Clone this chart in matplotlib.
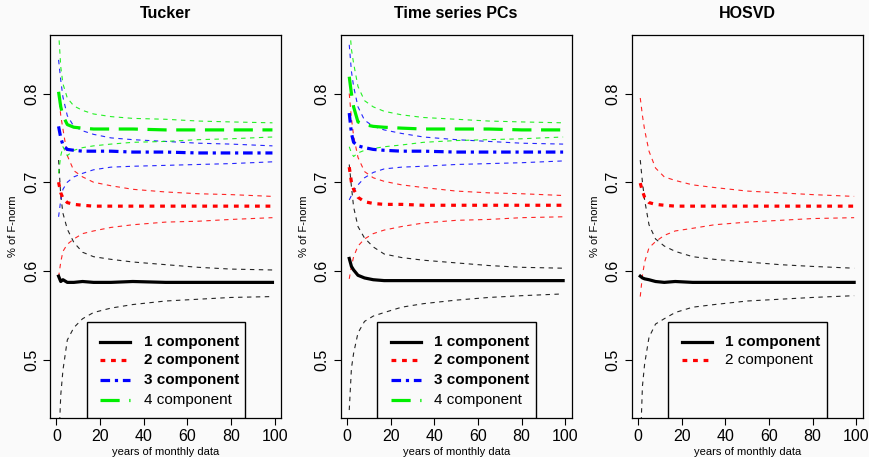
import matplotlib
matplotlib.use("Agg")
import matplotlib.pyplot as plt
from matplotlib.patches import Rectangle

plt.rcParams['font.family'] = ['Liberation Sans', 'DejaVu Sans']

# years of monthly data (x positions)
years = [1, 2, 3, 5, 8, 12, 17, 25, 35, 50, 65, 80, 99]

# ---- Tucker ----
tucker_1 = [0.594, 0.588, 0.590, 0.587, 0.587, 0.588, 0.587, 0.587, 0.588, 0.587, 0.587, 0.587, 0.587]
tucker_1_hi = [0.725, 0.685, 0.665, 0.647, 0.632, 0.621, 0.616, 0.613, 0.610, 0.607, 0.604, 0.602, 0.601]
tucker_1_lo = [0.40, 0.46, 0.488, 0.522, 0.536, 0.546, 0.553, 0.558, 0.562, 0.566, 0.568, 0.570, 0.571]
tucker_2 = [0.700, 0.688, 0.682, 0.677, 0.675, 0.674, 0.673, 0.673, 0.673, 0.673, 0.673, 0.673, 0.673]
tucker_2_hi = [0.800, 0.775, 0.760, 0.730, 0.713, 0.706, 0.700, 0.696, 0.692, 0.689, 0.687, 0.686, 0.684]
tucker_2_lo = [0.593, 0.610, 0.622, 0.630, 0.636, 0.642, 0.645, 0.649, 0.652, 0.655, 0.656, 0.658, 0.660]
tucker_3 = [0.763, 0.750, 0.742, 0.737, 0.736, 0.735, 0.735, 0.735, 0.734, 0.734, 0.733, 0.733, 0.733]
tucker_3_hi = [0.838, 0.815, 0.796, 0.775, 0.763, 0.758, 0.754, 0.750, 0.748, 0.746, 0.744, 0.743, 0.741]
tucker_3_lo = [0.661, 0.680, 0.692, 0.700, 0.706, 0.710, 0.714, 0.717, 0.718, 0.719, 0.720, 0.721, 0.723]
tucker_4 = [0.802, 0.785, 0.775, 0.765, 0.762, 0.761, 0.760, 0.760, 0.760, 0.759, 0.759, 0.759, 0.759]
tucker_4_hi = [0.870, 0.830, 0.811, 0.795, 0.786, 0.781, 0.777, 0.774, 0.772, 0.771, 0.769, 0.768, 0.767]
tucker_4_lo = [0.710, 0.730, 0.740, 0.730, 0.736, 0.739, 0.741, 0.743, 0.745, 0.746, 0.748, 0.749, 0.751]

# ---- Time series PCs ----
pcs_1 = [0.614, 0.605, 0.601, 0.595, 0.592, 0.590, 0.589, 0.589, 0.589, 0.589, 0.589, 0.589, 0.589]
pcs_1_hi = [0.720, 0.695, 0.672, 0.650, 0.637, 0.627, 0.619, 0.615, 0.612, 0.609, 0.606, 0.604, 0.603]
pcs_1_lo = [0.443, 0.490, 0.507, 0.530, 0.543, 0.549, 0.553, 0.559, 0.563, 0.567, 0.570, 0.572, 0.574]
pcs_2 = [0.717, 0.700, 0.692, 0.683, 0.678, 0.676, 0.675, 0.675, 0.674, 0.674, 0.674, 0.674, 0.674]
pcs_2_hi = [0.800, 0.772, 0.752, 0.728, 0.712, 0.705, 0.701, 0.697, 0.694, 0.690, 0.688, 0.687, 0.685]
pcs_2_lo = [0.591, 0.605, 0.616, 0.628, 0.636, 0.642, 0.646, 0.650, 0.654, 0.657, 0.658, 0.660, 0.661]
pcs_3 = [0.778, 0.755, 0.745, 0.741, 0.739, 0.737, 0.736, 0.735, 0.735, 0.734, 0.734, 0.734, 0.734]
pcs_3_hi = [0.855, 0.825, 0.808, 0.785, 0.770, 0.763, 0.759, 0.755, 0.751, 0.748, 0.746, 0.744, 0.743]
pcs_3_lo = [0.680, 0.685, 0.690, 0.697, 0.705, 0.711, 0.715, 0.717, 0.718, 0.720, 0.721, 0.722, 0.724]
pcs_4 = [0.819, 0.800, 0.785, 0.768, 0.765, 0.763, 0.762, 0.761, 0.760, 0.760, 0.760, 0.759, 0.759]
pcs_4_hi = [0.880, 0.850, 0.834, 0.808, 0.792, 0.785, 0.780, 0.776, 0.773, 0.771, 0.769, 0.768, 0.767]
pcs_4_lo = [0.740, 0.733, 0.729, 0.733, 0.736, 0.738, 0.740, 0.742, 0.745, 0.747, 0.748, 0.749, 0.751]

# ---- HOSVD ----
hosvd_1 = [0.594, 0.592, 0.591, 0.590, 0.588, 0.587, 0.588, 0.587, 0.587, 0.587, 0.587, 0.587, 0.587]
hosvd_1_hi = [0.725, 0.700, 0.680, 0.652, 0.636, 0.628, 0.622, 0.616, 0.613, 0.610, 0.607, 0.605, 0.603]
hosvd_1_lo = [0.40, 0.470, 0.495, 0.525, 0.540, 0.546, 0.553, 0.559, 0.562, 0.566, 0.568, 0.570, 0.572]
hosvd_2 = [0.699, 0.690, 0.683, 0.677, 0.675, 0.674, 0.673, 0.673, 0.673, 0.673, 0.673, 0.673, 0.673]
hosvd_2_hi = [0.795, 0.775, 0.759, 0.735, 0.716, 0.706, 0.702, 0.697, 0.694, 0.690, 0.688, 0.686, 0.684]
hosvd_2_lo = [0.571, 0.595, 0.610, 0.626, 0.633, 0.640, 0.645, 0.648, 0.652, 0.655, 0.657, 0.659, 0.660]

titles = ['Tucker', 'Time series PCs', 'HOSVD']
labels = ['1 component', '2 component', '3 component', '4 component']
colors = ['black', '#ff0000', '#0000ff', '#00ee00']
styles = ['-', (0, (1.5, 1.8)), (0, (3, 1.5, 1, 1.5)), (0, (6, 3))]

panels = [
    [(tucker_1, tucker_1_hi, tucker_1_lo), (tucker_2, tucker_2_hi, tucker_2_lo),
     (tucker_3, tucker_3_hi, tucker_3_lo), (tucker_4, tucker_4_hi, tucker_4_lo)],
    [(pcs_1, pcs_1_hi, pcs_1_lo), (pcs_2, pcs_2_hi, pcs_2_lo),
     (pcs_3, pcs_3_hi, pcs_3_lo), (pcs_4, pcs_4_hi, pcs_4_lo)],
    [(hosvd_1, hosvd_1_hi, hosvd_1_lo), (hosvd_2, hosvd_2_hi, hosvd_2_lo)],
]

bg = '#fafafa'
fig = plt.figure(figsize=(8.7, 4.57), dpi=100, facecolor=bg)
lefts = [0.0575, 0.3916, 0.7261]

for p in range(3):
    ax = fig.add_axes([lefts[p], 0.0853, 0.2655, 0.838], facecolor=bg)
    for k, (mean, hi, lo) in enumerate(panels[p]):
        ax.plot(years, hi, color=colors[k], lw=0.8, ls=(0, (4, 4)), alpha=0.85)
        ax.plot(years, lo, color=colors[k], lw=0.8, ls=(0, (4, 4)), alpha=0.85)
    for k, (mean, hi, lo) in enumerate(panels[p]):
        ax.plot(years, mean, color=colors[k], lw=2.3, ls=styles[k])

    ax.set_xlim(-2.92, 102.92)
    ax.set_ylim(0.434, 0.866)
    ax.set_xticks([0, 20, 40, 60, 80, 100])
    ax.set_yticks([0.5, 0.6, 0.7, 0.8])
    ax.set_yticklabels(['0.5', '0.6', '0.7', '0.8'], rotation=90, va='center')
    ax.tick_params(labelsize=11.5, length=5, width=0.8, direction='out', pad=3)
    for s in ax.spines.values():
        s.set_linewidth(0.9)
    ax.set_title(titles[p], fontsize=11.5, fontweight='bold', pad=12)
    ax.set_xlabel('years of monthly data', fontsize=8, labelpad=2)
    ax.set_ylabel('% of F-norm', fontsize=8, labelpad=4)

    # legend box drawn in R style
    ax.add_patch(Rectangle((0.159, 0.0), 0.686, 0.251, transform=ax.transAxes,
                           facecolor=bg, edgecolor='black', lw=1.0, zorder=5))
    n = len(panels[p])
    rows = [0.199, 0.151, 0.099, 0.047]
    for k in range(n):
        ax.plot([0.216, 0.346], [rows[k], rows[k]], transform=ax.transAxes,
                color=colors[k], lw=2.3, ls=styles[k], zorder=6, clip_on=False)
        weight = 'bold' if k < n - 1 else 'normal'
        ax.text(0.405, rows[k], labels[k], transform=ax.transAxes, fontsize=11,
                fontweight=weight, va='center', ha='left', zorder=6)

fig.savefig('out.png', dpi=100, facecolor=bg)
